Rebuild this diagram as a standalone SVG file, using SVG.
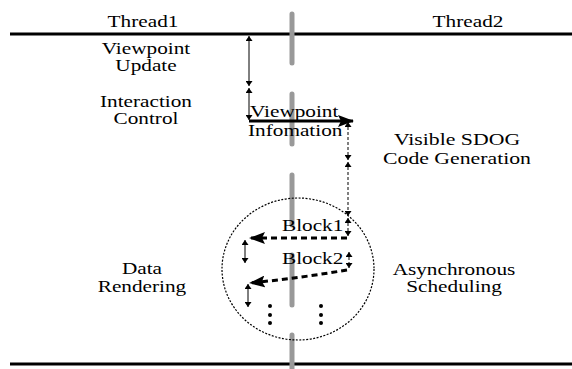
<svg xmlns="http://www.w3.org/2000/svg" width="572" height="369" viewBox="0 0 572 369">
  <style>
    .lbl { font-family: "Liberation Serif", "Times New Roman", serif; font-size: 17px; fill: #000; }
    .mid { text-anchor: middle; }
    .thread { stroke: #000; stroke-width: 3; fill: none; }
    .divider { stroke: #999; stroke-width: 5; stroke-linecap: round; fill: none; }
    .thin { stroke: #000; stroke-width: 1; fill: none; }
    .thin-dash { stroke: #000; stroke-width: 1; stroke-dasharray: 3 2; fill: none; }
    .heavy { stroke: #000; stroke-width: 3; fill: none; }
    .heavy-dash { stroke: #000; stroke-width: 3; stroke-dasharray: 6 4; fill: none; }
    .region { stroke: #000; stroke-width: 1.2; stroke-dasharray: 2 1.5; fill: none; }
  </style>
  <defs>
    <marker id="tip" viewBox="0 0 5 7" markerWidth="5" markerHeight="7" refX="5" refY="3.5" orient="auto-start-reverse" markerUnits="userSpaceOnUse">
      <path d="M0,0 L5,3.5 L0,7 z" fill="#000"/>
    </marker>
    <marker id="head" viewBox="0 0 16 12" markerWidth="16" markerHeight="12" refX="15" refY="6" orient="auto" markerUnits="userSpaceOnUse">
      <path d="M0,0 L16,6 L0,12 L3,6 z" fill="#000"/>
    </marker>
  </defs>
  <rect width="572" height="369" fill="#fff"/>

  <!-- thread timelines and the divider between the two threads -->
  <g id="timelines">
    <line class="thread" x1="10" y1="34" x2="572" y2="34"/>
    <line class="thread" x1="10" y1="364" x2="572" y2="364"/>
    <path class="divider" d="M292,14 V63 M292,94 V144 M292,175 V225 M292,255 V305 M292,335 V369"/>
  </g>

  <g id="thread1-label"><text class="lbl mid" transform="translate(143,27) scale(1.25,1)">Thread1</text></g>
  <g id="thread2-label"><text class="lbl mid" transform="translate(468,27) scale(1.25,1)">Thread2</text></g>

  <g id="viewpoint-update">
    <text class="lbl mid" transform="translate(146,54) scale(1.25,1)">Viewpoint</text>
    <text class="lbl mid" transform="translate(146,71) scale(1.25,1)">Update</text>
  </g>
  <g id="interaction-control">
    <text class="lbl mid" transform="translate(146,107) scale(1.25,1)">Interaction</text>
    <text class="lbl mid" transform="translate(146,124) scale(1.25,1)">Control</text>
  </g>
  <g id="sdog-generation">
    <text class="lbl mid" transform="translate(457,145) scale(1.28,1)">Visible SDOG</text>
    <text class="lbl mid" transform="translate(457,164) scale(1.28,1)">Code Generation</text>
  </g>
  <g id="data-rendering">
    <text class="lbl mid" transform="translate(142,274) scale(1.25,1)">Data</text>
    <text class="lbl mid" transform="translate(142,292) scale(1.25,1)">Rendering</text>
  </g>
  <g id="async-scheduling">
    <text class="lbl mid" transform="translate(454,275) scale(1.25,1)">Asynchronous</text>
    <text class="lbl mid" transform="translate(454,292) scale(1.25,1)">Scheduling</text>
  </g>
  <g id="viewpoint-info">
    <text class="lbl" transform="translate(250,117) scale(1.25,1)">Viewpoint</text>
    <text class="lbl" transform="translate(248,136) scale(1.25,1)">Infomation</text>
  </g>
  <g id="block1"><text class="lbl" transform="translate(282,231) scale(1.25,1)">Block1</text></g>
  <g id="block2"><text class="lbl" transform="translate(282,264) scale(1.25,1)">Block2</text></g>

  <!-- region of asynchronous block rendering -->
  <g id="render-region">
    <ellipse class="region" cx="298" cy="269" rx="76" ry="71"/>
  </g>

  <g id="connectors">
    <!-- thread 1: update and control intervals -->
    <line class="thin" x1="249" y1="36" x2="249" y2="86" marker-start="url(#tip)" marker-end="url(#tip)"/>
    <line class="thin" x1="249" y1="88" x2="249" y2="120" marker-start="url(#tip)" marker-end="url(#tip)"/>
    <!-- viewpoint hand-off to thread 2 -->
    <line class="heavy" x1="249" y1="121" x2="353" y2="121" marker-end="url(#head)"/>
    <!-- thread 2: code generation intervals -->
    <line class="thin-dash" x1="348" y1="122" x2="348" y2="160" marker-start="url(#tip)" marker-end="url(#tip)"/>
    <line class="thin-dash" x1="348" y1="162" x2="348" y2="216" marker-start="url(#tip)" marker-end="url(#tip)"/>
    <line class="thin-dash" x1="348" y1="218" x2="348" y2="236" marker-start="url(#tip)" marker-end="url(#tip)"/>
    <!-- block 1 -->
    <line class="heavy-dash" x1="347" y1="238" x2="250" y2="238" marker-end="url(#head)"/>
    <line class="thin" x1="245" y1="240" x2="245" y2="263" marker-start="url(#tip)" marker-end="url(#tip)"/>
    <!-- block 2 -->
    <line class="thin-dash" x1="349" y1="252" x2="349" y2="268" marker-start="url(#tip)" marker-end="url(#tip)"/>
    <path class="heavy-dash" d="M347,270 Q300,278 250,283" marker-end="url(#head)"/>
    <line class="thin" x1="248" y1="284" x2="248" y2="307" marker-start="url(#tip)" marker-end="url(#tip)"/>
  </g>

  <!-- continuation dots -->
  <g id="ellipsis" fill="#000">
    <circle cx="270" cy="306" r="2"/>
    <circle cx="270" cy="315" r="2"/>
    <circle cx="270" cy="323" r="2"/>
    <circle cx="321" cy="306" r="2"/>
    <circle cx="321" cy="315" r="2"/>
    <circle cx="321" cy="323" r="2"/>
  </g>
</svg>
